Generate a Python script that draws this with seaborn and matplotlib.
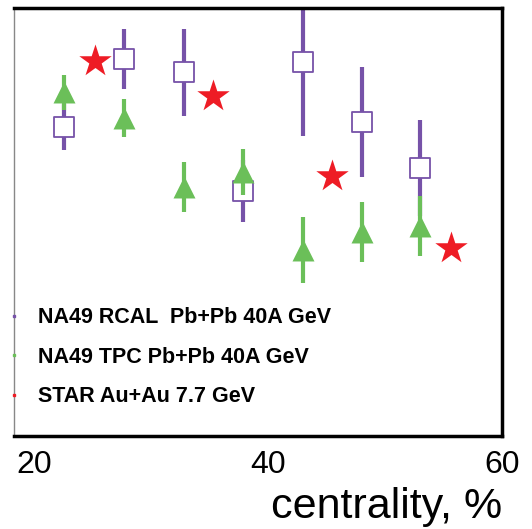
import matplotlib
matplotlib.use("Agg")
import matplotlib.pyplot as plt
from matplotlib.lines import Line2D
import seaborn as sns
import pandas as pd

# ── data (y in arbitrary units) ──
centrality_na49 = [22.6, 27.7, 32.8, 37.9, 43.0, 48.0, 53.0]
rcal_val = [0.722, 0.881, 0.850, 0.572, 0.874, 0.734, 0.626]
rcal_err = [0.054, 0.070, 0.102, 0.072, 0.173, 0.129, 0.112]
tpc_val = [0.803, 0.743, 0.582, 0.617, 0.435, 0.477, 0.491]
tpc_err = [0.041, 0.044, 0.058, 0.054, 0.077, 0.070, 0.070]

centrality_star = [25.2, 35.3, 45.5, 55.6]
star_val = [0.876, 0.794, 0.607, 0.439]

labels = ["NA49 RCAL  Pb+Pb 40A GeV", "NA49 TPC Pb+Pb 40A GeV", "STAR Au+Au 7.7 GeV"]
x_ticks = [20, 40, 60]

PURPLE = "#7652a8"
GREEN = "#6bbf59"
RED = "#ee1c25"

sns.set_style("white")
plt.rcParams["font.family"] = ["Liberation Sans", "DejaVu Sans"]
plt.rcParams["text.color"] = "black"
plt.rcParams["axes.labelcolor"] = "black"
plt.rcParams["xtick.color"] = "black"

fig = plt.figure(figsize=(5.32, 5.29), dpi=100)
ax = fig.add_axes([0.0263, 0.1758, 0.9173, 0.8091])

rcal = pd.DataFrame({"c": centrality_na49, "v": rcal_val, "e": rcal_err})
tpc = pd.DataFrame({"c": centrality_na49, "v": tpc_val, "e": tpc_err})
star = pd.DataFrame({"c": centrality_star, "v": star_val})

# RCAL: bars + open squares
ax.errorbar(rcal["c"], rcal["v"], yerr=rcal["e"], fmt="none", ecolor=PURPLE,
            elinewidth=3, capsize=0, zorder=2)
sns.scatterplot(data=rcal, x="c", y="v", marker="s", s=210, color="white",
                edgecolor=PURPLE, linewidth=1.3, ax=ax, zorder=3, legend=False)

# TPC: bars + triangles
ax.errorbar(tpc["c"], tpc["v"], yerr=tpc["e"], fmt="none", ecolor=GREEN,
            elinewidth=3, capsize=0, zorder=4)
sns.scatterplot(data=tpc, x="c", y="v", marker="^", s=250, color=GREEN,
                edgecolor=GREEN, linewidth=0, ax=ax, zorder=5, legend=False)

# STAR stars
sns.scatterplot(data=star, x="c", y="v", marker="*", s=600, color=RED,
                edgecolor=RED, linewidth=0, ax=ax, zorder=6, legend=False)

ax.set_xlim(18.3, 60)
ax.set_ylim(0, 1)
ax.set_xticks(x_ticks)
ax.set_xticklabels([str(t) for t in x_ticks], fontsize=23)
ax.set_yticks([])
ax.tick_params(axis="x", direction="in", length=10, width=1.5, pad=10)
ax.set_xlabel("centrality, %", fontsize=31, loc="right", labelpad=5)
ax.set_ylabel("")

for side in ["top", "right", "bottom"]:
    ax.spines[side].set_color("black")
    ax.spines[side].set_linewidth(2.5)
ax.spines["left"].set_color("#888888")
ax.spines["left"].set_linewidth(1)

handles = [Line2D([], [], marker="s", markersize=2, linestyle="none", color=c)
           for c in [PURPLE, GREEN, RED]]
ax.legend(handles, labels, loc="center left", bbox_to_anchor=(0.0, 0.184),
          frameon=False, handlelength=0.0, handletextpad=1.1, borderpad=0,
          borderaxespad=0, labelspacing=0.85,
          prop={"weight": "bold", "size": 15.5})

fig.savefig("out.png", dpi=100)
